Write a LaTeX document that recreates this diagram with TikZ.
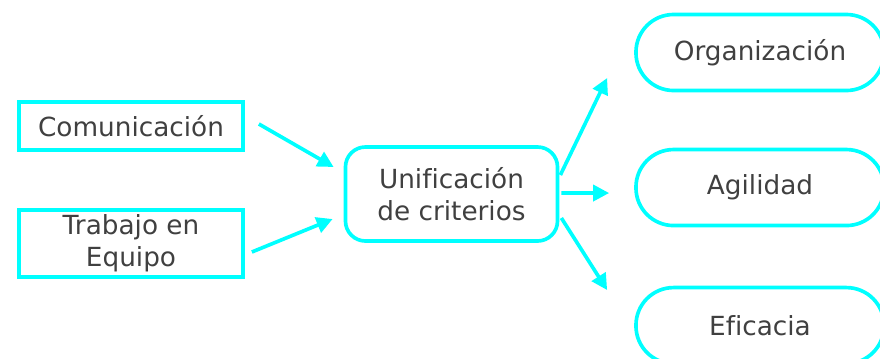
\documentclass[tikz,border=0pt]{standalone}
\usepackage{fontspec}
\setmainfont[Ligatures=NoCommon]{DejaVu Sans}
\usetikzlibrary{positioning,arrows.meta}
\definecolor{aqua}{RGB}{0,255,255}
\definecolor{ink}{RGB}{64,64,64}

\begin{document}
\begin{tikzpicture}[x=0.025cm,y=-0.025cm,on grid,
  every node/.style={text=ink,font=\fontsize{18.7}{22.7}\selectfont,
    align=center,draw=aqua,line width=2.6pt,inner sep=0pt},
  box/.style={minimum width=5.6cm},
  pill/.style={minimum width=6.2cm,minimum height=1.9cm,rounded corners=0.94cm},
  link/.style={draw=aqua,line width=2.6pt,-{Triangle[length=0.4cm,width=0.4cm]}}]
  \useasboundingbox (0,0) rectangle (880,358);
  \node[box,minimum height=1.2cm] (com) at (131,126) {Comunicación};
  \node[box,minimum height=1.68cm] (trab) at (131,243.5) {Trabajo en\\Equipo};
  \node[minimum width=5.3cm,minimum height=2.35cm,rounded corners=0.5cm]
    (unif) at (451.5,194) {Unificación\\de criterios};
  \node[pill] (org) at (760,52.5) {Organización};
  \node[pill,below=3.375cm of org] (agil) {Agilidad};
  \node[pill,below=3.45cm of agil] (efic) {Eficacia};
  \draw[link] ([shift={(14,-2)}]com.east) -- ([shift={(-10,-27)}]unif.west);
  \draw[link] ([shift={(7,8.5)}]trab.east) -- ([shift={(-11,25)}]unif.west);
  \draw[link] ([shift={(1,-19)}]unif.east) -- ([shift={(-27,25.5)}]org.west);
  \draw[link] ([shift={(2,-1)}]unif.east) -- ([shift={(-25,5.5)}]agil.west);
  \draw[link] ([shift={(2,24)}]unif.east) -- ([shift={(-27,-35.5)}]efic.west);
\end{tikzpicture}
\end{document}
